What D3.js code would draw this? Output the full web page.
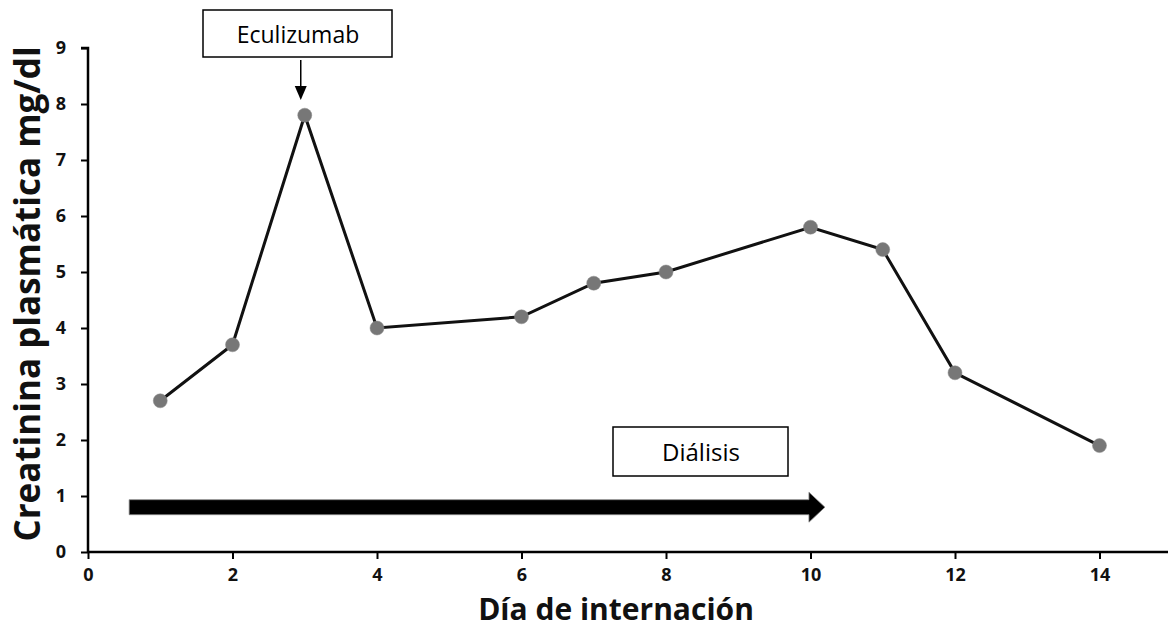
<!DOCTYPE html>
<html><head><meta charset="utf-8">
<script src="https://cdn.jsdelivr.net/npm/d3@7"></script>
<style>body{margin:0;background:#fff}svg{display:block}</style>
</head><body>
<svg id="c" width="1168" height="628"></svg>
<script>
const days = [1,2,3,4,6,7,8,10,11,12,14];
const creatinine = [2.7,3.7,7.8,4.0,4.2,4.8,5.0,5.8,5.4,3.2,1.9];
const xTicks = [0,2,4,6,8,10,12,14];
const yTicks = [0,1,2,3,4,5,6,7,8,9];
const dialysisSpan = [0.57, 10.2];
const eculizumabDay = 3;
const xLabel = "Día de internación";
const yLabel = "Creatinina plasmática mg/dl";

const svg = d3.select("#c");
const font = "'Open Sans', 'Liberation Sans', sans-serif";
const x = d3.scaleLinear().domain([0,15]).range([88, 88+15*72.25]);
const y = d3.scaleLinear().domain([0,9]).range([552, 48]);

const xa = svg.append("g").attr("transform","translate(0,552)")
  .call(d3.axisBottom(x).tickValues(xTicks).tickFormat(d3.format("d")).tickSize(7).tickPadding(9));
const ya = svg.append("g").attr("transform","translate(88,0)")
  .call(d3.axisLeft(y).tickValues(yTicks).tickFormat(d3.format("d")).tickSize(7).tickPadding(15));
[xa,ya].forEach(a=>{
  a.select(".domain").attr("stroke","#000").attr("stroke-width",2.5);
  a.selectAll(".tick line").attr("stroke","#000").attr("stroke-width",2);
  a.selectAll(".tick text").attr("font-family",font).attr("font-weight","bold").attr("font-size",18).attr("fill","#111");
});
ya.select(".domain").attr("d", `M-7,${y(9)}H0V${y(0)}`);
xa.select(".domain").attr("d", `M${x(0)},0H1168`);

// Axis titles
svg.append("text").attr("x", 616).attr("y", 620).attr("text-anchor","middle")
  .attr("font-family",font).attr("font-weight","bold").attr("font-size",30).attr("fill","#111").text(xLabel);
svg.append("text").attr("transform","translate(40,294) rotate(-90)").attr("text-anchor","middle")
  .attr("font-family",font).attr("font-weight","bold").attr("font-size",35).attr("fill","#111").text(yLabel);

// Dialysis arrow
const ay = y(0.8);
const tipX = x(dialysisSpan[1]);
const headW = 16;
svg.append("path")
  .attr("d", `M${x(dialysisSpan[0])},${ay-7.5}H${tipX-headW}V${ay-15}L${tipX},${ay}L${tipX-headW},${ay+15}V${ay+7.5}H${x(dialysisSpan[0])}Z`)
  .attr("fill","#000").attr("stroke","#888").attr("stroke-width",0.8);

// Dialysis box
svg.append("rect").attr("x",613).attr("y",427).attr("width",175).attr("height",49)
  .attr("fill","#fff").attr("stroke","#000").attr("stroke-width",1.5);
svg.append("text").attr("x",701).attr("y",461).attr("text-anchor","middle")
  .attr("font-family",font).attr("font-size",24).text("Diálisis");

// Eculizumab box
svg.append("rect").attr("x",203).attr("y",10).attr("width",189).attr("height",47)
  .attr("fill","#fff").attr("stroke","#000").attr("stroke-width",1.5);
svg.append("text").attr("x",298).attr("y",43).attr("text-anchor","middle")
  .attr("font-family",font).attr("font-size",23).text("Eculizumab");
const ex = x(eculizumabDay)-4;
svg.append("line").attr("x1",ex).attr("x2",ex).attr("y1",60).attr("y2",88).attr("stroke","#000").attr("stroke-width",1.5);
svg.append("path").attr("d",`M${ex-6},86L${ex+6},86L${ex},100Z`).attr("fill","#000");

// Line and points
const pts = days.map((d,i)=>[d,creatinine[i]]);
svg.append("path").datum(pts)
  .attr("d", d3.line().x(d=>x(d[0])).y(d=>y(d[1])))
  .attr("fill","none").attr("stroke","#111").attr("stroke-width",3);
svg.selectAll("circle.p").data(pts).enter().append("circle")
  .attr("cx",d=>x(d[0])).attr("cy",d=>y(d[1])).attr("r",7)
  .attr("fill","#777").attr("stroke","#888").attr("stroke-width",0.5);
</script>
</body></html>
